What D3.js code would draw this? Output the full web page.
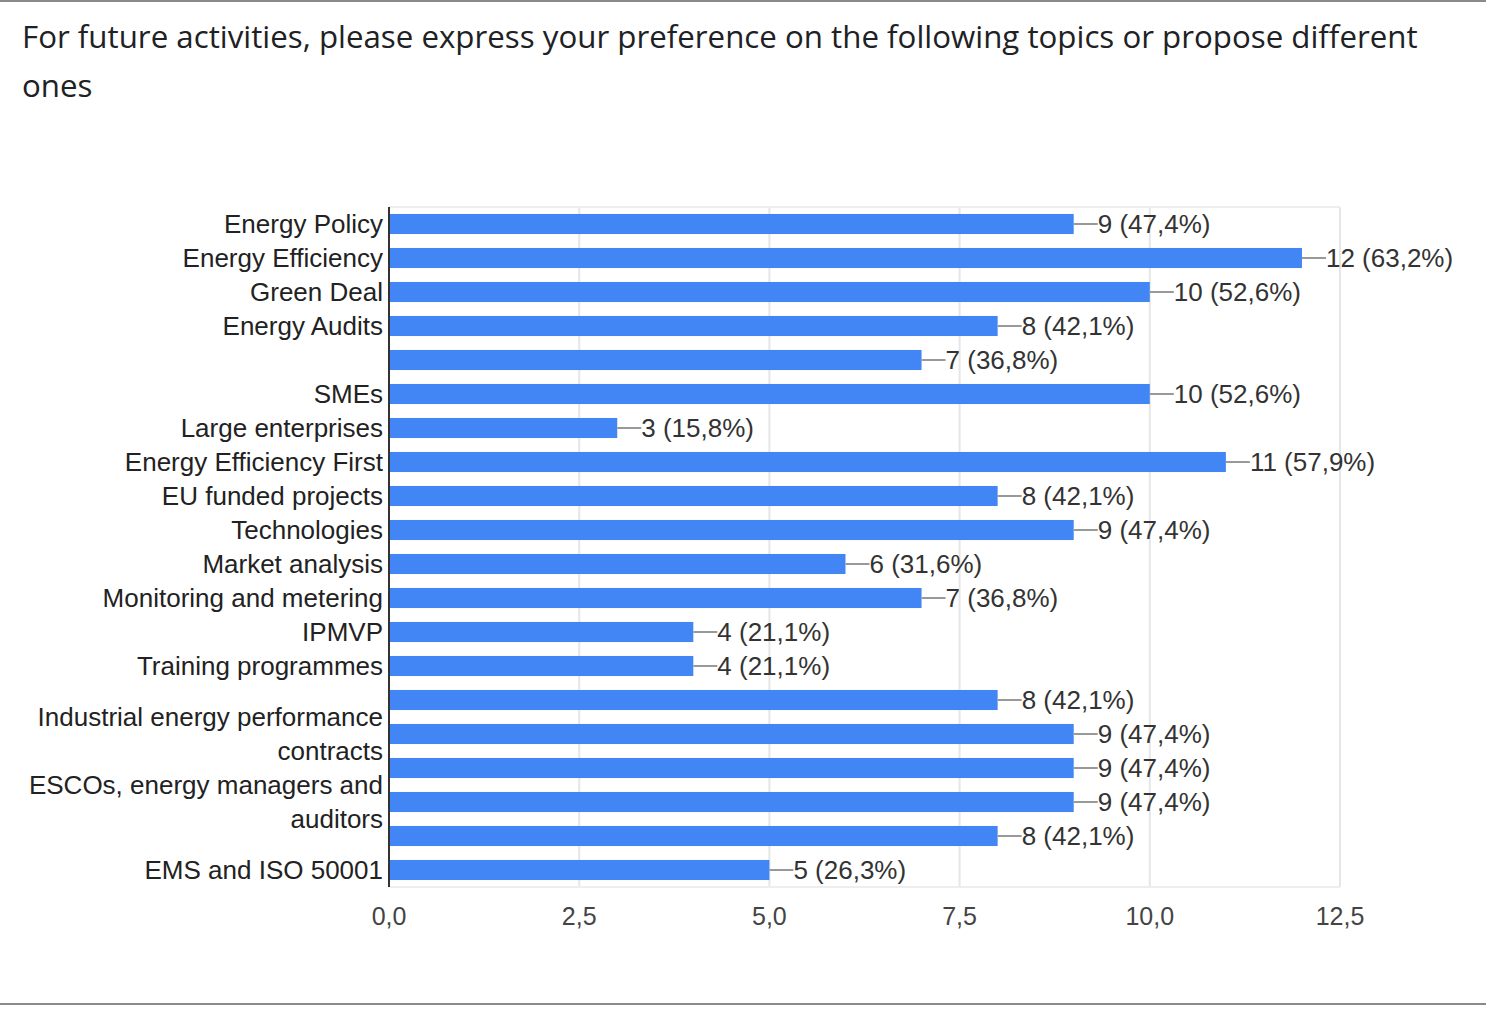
<!DOCTYPE html>
<html>
<head>
<meta charset="utf-8">
<script src="https://cdn.jsdelivr.net/npm/d3@7"></script>
<style>
  body { margin: 0; background: #fff; }
  svg { display: block; }
</style>
</head>
<body>
<div id="chart"></div>
<script>
// topics, in the order they appear from top to bottom (blank = label not shown)
var categories = [
    "Energy Policy", "Energy Efficiency", "Green Deal", "Energy Audits", "",
    "SMEs", "Large enterprises", "Energy Efficiency First", "EU funded projects", "Technologies",
    "Market analysis", "Monitoring and metering", "IPMVP", "Training programmes", "",
    "Industrial energy performance contracts", "", "ESCOs, energy managers and auditors", "", "EMS and ISO 50001"
];
var counts = [9, 12, 10, 8, 7, 10, 3, 11, 8, 9, 6, 7, 4, 4, 8, 9, 9, 9, 8, 5];
var percents = ["47,4", "63,2", "52,6", "42,1", "36,8", "52,6", "15,8", "57,9", "42,1", "47,4",
                "31,6", "36,8", "21,1", "21,1", "42,1", "47,4", "47,4", "47,4", "42,1", "26,3"];
var ticks = [0, 2.5, 5, 7.5, 10, 12.5];

var width = 1486, height = 1009;
var margin = {top: 207, right: 146, bottom: 122, left: 389};

var svg = d3.select("#chart").append("svg")
    .attr("width", width)
    .attr("height", height);

// frame lines top and bottom
svg.append("line").attr("x1", 0).attr("x2", width).attr("y1", 1).attr("y2", 1)
    .style("stroke", "#8a8a8a").style("stroke-width", 2);
svg.append("line").attr("x1", 0).attr("x2", width).attr("y1", 1004).attr("y2", 1004)
    .style("stroke", "#8a8a8a").style("stroke-width", 2);

// title, wrapped on two lines like the form
var title = svg.append("g").attr("class", "title")
    .style("font-family", "'Open Sans', sans-serif")
    .style("fill", "#202124");
var t1 = title.append("text").attr("x", 22).attr("y", 48).style("font-size", "29px")
    .text("For future activities, please express your preference on the following topics or propose different");
var w1 = t1.node().getComputedTextLength();
var fs = 29 * 1396 / w1;
t1.style("font-size", fs + "px");
title.append("text").attr("x", 22).attr("y", 97).style("font-size", fs + "px").text("ones");

var g = svg.append("g").attr("transform", "translate(" + margin.left + "," + margin.top + ")");
var w = width - margin.left - margin.right,
    h = height - margin.top - margin.bottom;

var x = d3.scaleLinear().domain([0, 12.5]).range([0, w]);
var y = d3.scaleBand().domain(d3.range(categories.length)).range([0, h]).paddingInner(0.41).paddingOuter(0.205);

// grid
g.selectAll(".grid").data(ticks.slice(1)).enter().append("line")
    .attr("class", "grid")
    .attr("x1", function(d) { return x(d); })
    .attr("x2", function(d) { return x(d); })
    .attr("y1", 0).attr("y2", h)
    .style("stroke", "#e6e6e6").style("stroke-width", 2);
g.append("line").attr("x1", 0).attr("x2", w).attr("y1", 0).attr("y2", 0)
    .style("stroke", "#eeeeee").style("stroke-width", 2);
g.append("line").attr("x1", 0).attr("x2", w).attr("y1", h).attr("y2", h)
    .style("stroke", "#eeeeee").style("stroke-width", 2);

// bars
g.selectAll(".bar").data(counts).enter().append("rect")
    .attr("class", "bar")
    .attr("x", 1)
    .attr("y", function(d, i) { return y(i); })
    .attr("width", function(d) { return x(d) - 1; })
    .attr("height", y.bandwidth())
    .style("fill", "#4285f4");

// value annotations with leader lines
var ann = g.selectAll(".ann").data(counts).enter().append("g")
    .attr("class", "ann")
    .attr("transform", function(d, i) { return "translate(" + x(d) + "," + (y(i) + y.bandwidth() / 2) + ")"; });
ann.append("line").attr("x1", 0).attr("x2", 24)
    .style("stroke", "#999").style("stroke-width", 2);
ann.append("text")
    .attr("x", 24).attr("dy", ".35em")
    .style("font-family", "'Liberation Sans', Arial, sans-serif")
    .style("font-size", "26px")
    .style("fill", "#333")
    .text(function(d, i) { return d + " (" + percents[i] + "%)"; });

// zero axis line
g.append("line").attr("x1", 0).attr("x2", 0).attr("y1", 0).attr("y2", h)
    .style("stroke", "#333").style("stroke-width", 2);

// category labels (long ones wrap on two lines)
var wraps = {
    "Industrial energy performance contracts": ["Industrial energy performance", "contracts"],
    "ESCOs, energy managers and auditors": ["ESCOs, energy managers and", "auditors"]
};
var lab = g.selectAll(".cat").data(categories).enter().append("text")
    .attr("class", "cat")
    .attr("x", -6)
    .attr("y", function(d, i) { return y(i) + y.bandwidth() / 2; })
    .attr("text-anchor", "end")
    .style("font-family", "'Liberation Sans', Arial, sans-serif")
    .style("font-size", "26px")
    .style("fill", "#222");
lab.each(function(d) {
    var el = d3.select(this);
    var lines = wraps[d] || [d];
    lines.forEach(function(l, k) {
        el.append("tspan")
            .attr("x", -6)
            .attr("dy", k == 0 ? (0.35 - (lines.length - 1) * 0.65) + "em" : "1.3em")
            .text(l);
    });
});

// x axis tick labels
g.selectAll(".tick-label").data(ticks).enter().append("text")
    .attr("class", "tick-label")
    .attr("x", function(d) { return x(d); })
    .attr("y", h + 38)
    .attr("text-anchor", "middle")
    .style("font-family", "'Liberation Sans', Arial, sans-serif")
    .style("font-size", "25px")
    .style("fill", "#444")
    .text(function(d) { return d3.format(".1f")(d).replace(".", ","); });
</script>
</body>
</html>
